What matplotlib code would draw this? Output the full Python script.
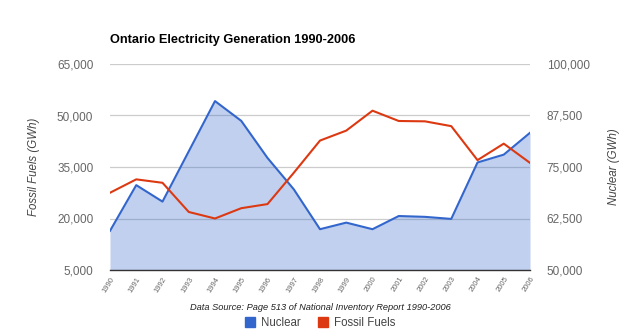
import matplotlib.pyplot as plt
from matplotlib.patches import Patch

plt.rcParams['font.family'] = ['Liberation Sans', 'DejaVu Sans']

years = list(range(1990, 2007))
fossil = [27500, 31400, 30400, 21900, 20000, 23000, 24200, 33300, 42700,
          45600, 51400, 48400, 48300, 46900, 37000, 41800, 36200]
nuclear = [59500, 70600, 66600, 78800, 91000, 86200, 77200, 69600, 59900,
           61500, 59900, 63100, 62900, 62400, 76100, 78000, 83300]
left_ticks = [5000, 20000, 35000, 50000, 65000]
right_ticks = [50000, 62500, 75000, 87500, 100000]

blue = '#3366cc'
red = '#dc3912'
grey = '#666666'

fig = plt.figure(figsize=(6.4, 3.34), dpi=100)
ax = fig.add_axes([110 / 640, 64 / 334, 420 / 640, 206 / 334])
ax2 = ax.twinx()

# nuclear area on the right axis, drawn underneath
ax2.fill_between(years, nuclear, 50000, color=blue, alpha=0.3, lw=0)
ax2.plot(years, nuclear, color=blue, lw=1.5)
ax2.set_ylim(50000, 100000)
ax2.set_yticks(right_ticks)
ax2.set_yticklabels([f'{t:,}' for t in right_ticks])
ax2.grid(axis='y', color='#cccccc', lw=0.9)
ax2.set_axisbelow(True)
ax2.set_ylabel('Nuclear (GWh)', style='italic', color='#444444', fontsize=8.3,
               rotation=90, labelpad=13)

# fossil line on the left axis, on top
ax.set_zorder(ax2.get_zorder() + 1)
ax.patch.set_visible(False)
ax.plot(years, fossil, color=red, lw=1.5)
ax.set_ylim(5000, 65000)
ax.set_yticks(left_ticks)
ax.set_yticklabels([f'{t:,}' for t in left_ticks])
ax.set_ylabel('Fossil Fuels (GWh)', style='italic', color='#444444',
              fontsize=8.3, labelpad=12)
ax.set_xlim(1990, 2006)
ax.set_xticks(years)
ax.set_xticklabels([str(y) for y in years], rotation=58, ha='right',
                   rotation_mode='anchor', fontsize=5.5, color=grey)

for a in (ax, ax2):
    for s in a.spines.values():
        s.set_visible(False)
    a.tick_params(length=0, labelsize=8.5, labelcolor=grey, pad=12)
ax.tick_params(axis='x', pad=4, labelsize=5.5)
ax2.spines['bottom'].set_visible(True)
ax2.spines['bottom'].set_color('#333333')
ax2.spines['bottom'].set_linewidth(1)

fig.text(110 / 640, 1 - 40 / 334, 'Ontario Electricity Generation 1990-2006',
         fontsize=9.2, fontweight='bold', ha='left', va='center')
fig.text(0.5, 1 - 308 / 334,
         'Data Source: Page 513 of National Inventory Report 1990-2006',
         fontsize=6.7, style='italic', ha='center', va='center', color='#222222')

handles = [Patch(facecolor=blue, edgecolor=blue), Patch(facecolor=red, edgecolor=red)]
fig.legend(handles, ['Nuclear', 'Fossil Fuels'], loc='center',
           bbox_to_anchor=(0.5, 1 - 323 / 334), ncol=2, frameon=False,
           fontsize=8.3, labelcolor='#444444', handlelength=0.9, handleheight=0.9,
           handletextpad=0.5, columnspacing=1.5, borderpad=0)

fig.savefig('out.png', dpi=100)
